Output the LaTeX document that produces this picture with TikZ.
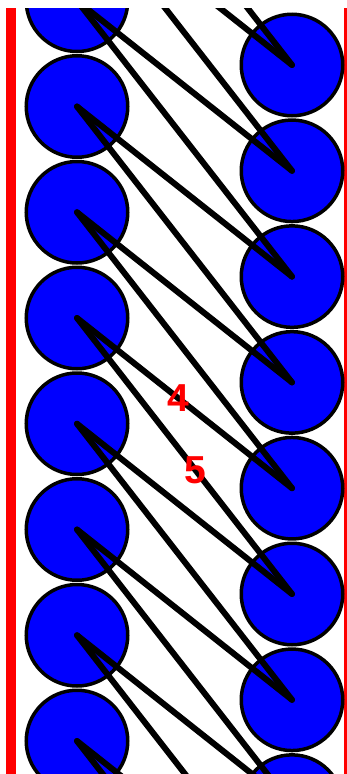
\documentclass[tikz,border=0pt]{standalone}
\usepackage{fontspec}
\setsansfont{Liberation Sans}
\usetikzlibrary{positioning}
\definecolor{BallBlue}{HTML}{0000FF}
\definecolor{RailRed}{HTML}{FF0000}
\tikzset{
  ball/.style={circle,draw=black,line width=3.5pt,fill=BallBlue,minimum size=101.5pt,inner sep=0pt,outer sep=0pt},
  link/.style={line width=6pt,line cap=round,color=black},
  tag/.style={text=RailRed,font=\sffamily\bfseries\fontsize{39}{41}\selectfont,inner sep=0pt},
  rail/.style={fill=RailRed},
}

\begin{document}
\begin{tikzpicture}[x=1pt,y=-1pt]
  \useasboundingbox (0,0) rectangle (347,774);
  \fill[white] (0,0) rectangle (347,774);
  \clip (0,8) rectangle (347,774);

  % ── Rails ──
  \fill[rail] (6,8) rectangle (16,774);
  \fill[rail] (344,8) rectangle (354,774);

  % ── Left column ──
  \node[ball] (l0) at (77,0.75) {};
  \node[ball, below=4.25pt of l0] (l1) {};
  \node[ball, below=4.25pt of l1] (l2) {};
  \node[ball, below=4.25pt of l2] (l3) {};
  \node[ball, below=4.25pt of l3] (l4) {};
  \node[ball, below=4.25pt of l4] (l5) {};
  \node[ball, below=4.25pt of l5] (l6) {};
  \node[ball, below=4.25pt of l6] (l7) {};

  % ── Right column ──
  \node[ball] (r0) at (292,65) {};
  \node[ball, below=4.3pt of r0] (r1) {};
  \node[ball, below=4.3pt of r1] (r2) {};
  \node[ball, below=4.3pt of r2] (r3) {};
  \node[ball, below=4.3pt of r3] (r4) {};
  \node[ball, below=4.3pt of r4] (r5) {};
  \node[ball, below=4.3pt of r5] (r6) {};
  \node[ball, below=4.3pt of r6] (r7) {};

  % ── Ends outside the frame ──
  \coordinate (lup2) at (77,-210.75);
  \coordinate (lup1) at (77,-105);
  \coordinate (rdown8) at (292,911.4);
  \coordinate (rdown9) at (292,1017.2);

  % ── Links ──
  \draw[link] (lup2) -- (r0.center);
  \draw[link] (lup1) -- (r0.center);
  \draw[link] (lup1) -- (r1.center);
  \draw[link] (l0.center) -- (r1.center);
  \draw[link] (l0.center) -- (r2.center);
  \draw[link] (l1.center) -- (r2.center);
  \draw[link] (l1.center) -- (r3.center);
  \draw[link] (l2.center) -- (r3.center);
  \draw[link] (l2.center) -- (r4.center);
  \draw[link] (l3.center) -- node[tag,pos=0.47] (four) {4} (r4.center);
  \draw[link] (l3.center) -- node[tag,pos=0.55] (five) {5} (r5.center);
  \draw[link] (l4.center) -- (r5.center);
  \draw[link] (l4.center) -- (r6.center);
  \draw[link] (l5.center) -- (r6.center);
  \draw[link] (l5.center) -- (r7.center);
  \draw[link] (l6.center) -- (r7.center);
  \draw[link] (l6.center) -- (rdown8);
  \draw[link] (l7.center) -- (rdown8);
  \draw[link] (l7.center) -- (rdown9);
\end{tikzpicture}
\end{document}
